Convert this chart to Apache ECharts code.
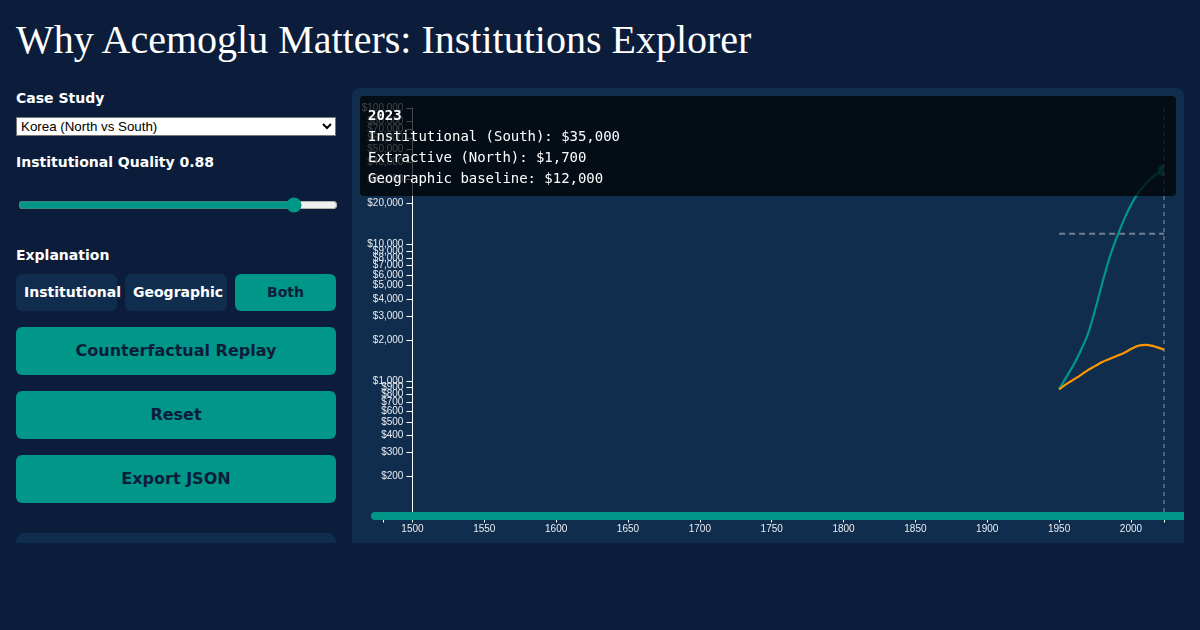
<!DOCTYPE html>
<html>
<head>
<meta charset="utf-8">
<title>Why Acemoglu Matters: Institutions Explorer</title>
<script src="https://cdn.jsdelivr.net/npm/echarts@6/dist/echarts.min.js"></script>
<style>
  html, body { margin: 0; height: 630px; overflow: hidden; background: #0b1d3a; color: #fff; font-family: "DejaVu Sans", sans-serif; }
  h1 { position: absolute; left: 16px; top: 15px; margin: 0; font: 400 40px/50px "Liberation Serif", serif; white-space: nowrap; }
  label { position: absolute; left: 16px; font-size: 14px; font-weight: 700; line-height: 18px; }
  select { position: absolute; left: 16px; top: 117px; width: 320px; height: 19px; box-sizing: border-box; font: 13.33px "Liberation Sans", sans-serif; background: #fff; color: #000; }
  input[type=range] { position: absolute; left: 16px; top: 195px; width: 320px; margin: 2px; accent-color: #009688; }
  .btn { position: absolute; box-sizing: border-box; border-radius: 6px; background: #009688; color: #0b1d3a; font-weight: 700; text-align: center; white-space: nowrap; }
  .small { top: 274px; height: 37px; line-height: 37px; font-size: 14px; padding-left: 8px; text-align: left; }
  .off { background: #112d4e; color: #fff; }
  .big { left: 16px; width: 320px; height: 48px; line-height: 48px; font-size: 16px; }
  #stub { position: absolute; left: 16px; top: 533px; width: 320px; height: 10px; background: #112d4e; border-radius: 8px 8px 0 0; }
  #panel { position: absolute; left: 352px; top: 88px; width: 832px; height: 455px; background: #112d4e; border-radius: 8px 8px 0 0; overflow: hidden; }
  #chart { position: absolute; left: 0; top: 0; width: 832px; height: 455px; }
  #tip { position: absolute; left: 8px; top: 8px; width: 816px; height: 100px; box-sizing: border-box; padding: 9px 8px 0; background: rgba(0,0,0,.72); border-radius: 4px; font: 14px/21px "DejaVu Sans Mono", monospace; letter-spacing: -0.03px; white-space: pre; }
</style>
</head>
<body>
<h1>Why Acemoglu Matters: Institutions Explorer</h1>
<label style="top:89px">Case Study</label>
<select><option>Korea (North vs South)</option></select>
<label style="top:153px">Institutional Quality 0.88</label>
<input type="range" min="0" max="1" step="0.01" value="0.88">
<label style="top:246px">Explanation</label>
<div class="btn small off" style="left:16px;width:101px">Institutional</div>
<div class="btn small off" style="left:125px;width:102px">Geographic</div>
<div class="btn small" style="left:235px;width:101px;text-align:center;padding:0">Both</div>
<div class="btn big" style="top:327px">Counterfactual Replay</div>
<div class="btn big" style="top:391px">Reset</div>
<div class="btn big" style="top:455px">Export JSON</div>
<div id="stub"></div>
<div id="panel">
  <div id="chart"></div>
  <div id="tip"></div>
</div>
<script>
  var southYears = [1950, 1955, 1960, 1965, 1970, 1975, 1980, 1985, 1990, 1995, 2000, 2005, 2010, 2015, 2020, 2023];
  var southValues = [870, 1070, 1310, 1670, 2210, 3310, 5200, 7960, 11200, 15100, 19500, 23800, 27700, 31200, 34000, 35000];
  var northYears = [1950, 1955, 1960, 1965, 1970, 1975, 1980, 1985, 1990, 1995, 2000, 2005, 2010, 2015, 2023];
  var northValues = [870, 950, 1025, 1107, 1204, 1288, 1378, 1450, 1525, 1604, 1716, 1814, 1845, 1810, 1700];
  var baselineYears = [1950, 2023];
  var baselineValues = [12000, 12000];
  var currentYear = 2023;
  var xTicks = [1480, 1500, 1550, 1600, 1650, 1700, 1750, 1800, 1850, 1900, 1950, 2000, 2023];
  var xLabels = [1500, 1550, 1600, 1650, 1700, 1750, 1800, 1850, 1900, 1950, 2000];
  var yLabels = [200, 300, 400, 500, 600, 700, 800, 900, 1000, 2000, 3000, 4000, 5000, 6000, 7000, 8000, 9000, 10000, 20000, 30000, 40000, 50000, 60000, 70000, 80000, 90000, 100000];
  var tipLines = ['Institutional (South): $35,000', 'Extractive (North): $1,700', 'Geographic baseline: $12,000'];

  function zip(xs, ys) {
    return xs.map(function(x, i) { return [x, ys[i]]; });
  }

  document.getElementById('tip').innerHTML = '<b>' + currentYear + '</b>\n' + tipLines.join('\n');

  var chart = echarts.init(document.getElementById('chart'));
  chart.setOption({
    animation: false,
    grid: { left: 31.7, right: 20, top: 20, bottom: 26.5 },
    xAxis: {
      type: 'value', min: 1480, max: 2023, splitLine: { show: false },
      axisLine: { lineStyle: { color: '#fff' } },
      axisTick: { length: 6, lineStyle: { color: '#fff' }, customValues: xTicks },
      axisLabel: { customValues: xLabels, color: '#e8edf2', fontSize: 10, fontFamily: 'Liberation Sans', margin: 8, formatter: function(v) { return String(v); } }
    },
    yAxis: {
      type: 'log', logBase: 10, min: 102, max: 100000, offset: -28.7, splitLine: { show: false }, minorTick: { show: false },
      axisLine: { show: true, lineStyle: { color: '#fff' } },
      axisTick: { show: true, length: 6, lineStyle: { color: '#fff' }, customValues: yLabels },
      axisLabel: {
        customValues: yLabels, color: '#e8edf2', fontSize: 10, fontFamily: 'Liberation Sans', margin: 9, padding: [2, 0, 0, 0], showMinLabel: true, showMaxLabel: true, hideOverlap: false,
        formatter: function(v) { return '$' + Math.round(v).toLocaleString('en-US'); }
      }
    },
    graphic: [{
      type: 'rect', z: 100, silent: true,
      shape: { x: 19, y: 424, width: 813, height: 8, r: [4, 0, 0, 4] },
      style: { fill: '#009688' }
    }],
    series: [
      {
        type: 'line', data: zip(baselineYears, baselineValues), showSymbol: false, silent: true,
        lineStyle: { color: 'rgba(255,255,255,0.4)', width: 2, type: [6, 4] }
      },
      {
        type: 'line', data: zip([currentYear, currentYear], [100000, 102]), showSymbol: false, silent: true, clip: false,
        lineStyle: { color: 'rgba(255,255,255,0.5)', width: 1, type: [4, 4] }
      },
      {
        type: 'line', data: zip(southYears, southValues), showSymbol: false, smooth: 0.35, clip: false,
        lineStyle: { color: '#009688', width: 2.2 }
      },
      {
        type: 'line', data: zip(northYears, northValues), showSymbol: false, smooth: 0.35, clip: false,
        lineStyle: { color: '#ff9800', width: 2.2 }
      },
      {
        // the dot is cut off by the plot edge in the original, so only its left half is drawn
        type: 'scatter', data: [[currentYear, southValues[southValues.length - 1]]], clip: false,
        symbol: 'path://M10,0A10,10 0 0 0 10,20Z', symbolSize: [6, 12], symbolOffset: [-3, 0],
        itemStyle: { color: '#009688', opacity: 1 }
      }
    ]
  });
</script>
</body>
</html>
